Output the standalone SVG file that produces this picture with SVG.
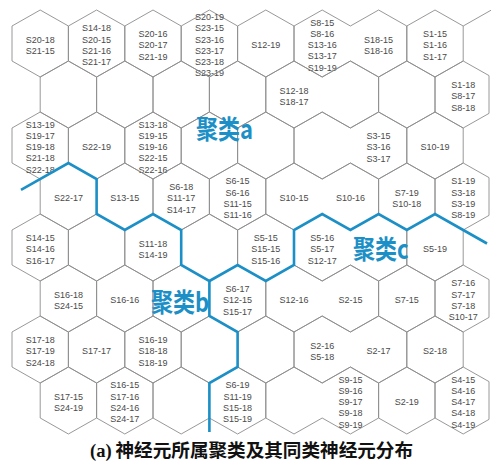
<svg xmlns="http://www.w3.org/2000/svg" width="491" height="465" viewBox="0 0 491 465">
<style>
.hx{fill:none;stroke:#8c8c8c;stroke-width:0.9}
.t{font-family:"Liberation Sans",Arial,sans-serif;font-size:9px;fill:#4a4a4a;text-anchor:middle}
.bd{fill:none;stroke:#1b8fc6;stroke-width:2.6;stroke-linejoin:miter}
.cl{font-family:"Noto Sans CJK SC",sans-serif;font-size:22px;font-weight:bold;fill:#1b8fc6}
.cap{font-family:"Liberation Serif","Noto Sans CJK SC",serif;font-size:18.6px;font-weight:bold;fill:#111}
</style>
<defs>
<path id="hex" class="hx" d="M0,-33.5L28.2,-17.5V17.5L0,33.5L-28.2,17.5V-17.5Z"/>
<path id="hexR" class="hx" d="M28.2,17.5L0,33.5L-28.2,17.5V-17.5L0,-33.5L28.2,-17.5"/>
<path id="hexL" class="hx" d="M-28.2,-17.5L0,-33.5L28.2,-17.5V17.5L0,33.5L-28.2,17.5"/>
<path id="hexE" class="hx" d="M0,-33.5L25.8,-18.9V18.9L0,33.5L-28.2,17.5V-17.5Z"/>
</defs>
<rect width="491" height="465" fill="#fff"/>

<!-- row 0 -->
<g id="n0-0"><use href="#hex" x="40.2" y="43.5"/><text class="t" x="40.2" y="42.6">S20-18<tspan x="40.2" dy="11.25">S21-15</tspan></text></g>
<g id="n0-1"><use href="#hex" x="96.6" y="43.5"/><text class="t" x="96.6" y="31.3">S14-18<tspan x="96.6" dy="11.25">S20-15</tspan><tspan x="96.6" dy="11.25">S21-16</tspan><tspan x="96.6" dy="11.25">S21-17</tspan></text></g>
<g id="n0-2"><use href="#hex" x="153" y="43.5"/><text class="t" x="153" y="37">S20-16<tspan x="153" dy="11.25">S20-17</tspan><tspan x="153" dy="11.25">S21-19</tspan></text></g>
<g id="n0-3"><use href="#hex" x="209.4" y="43.5"/><text class="t" x="209.4" y="20.1">S20-19<tspan x="209.4" dy="11.25">S23-15</tspan><tspan x="209.4" dy="11.25">S23-16</tspan><tspan x="209.4" dy="11.25">S23-17</tspan><tspan x="209.4" dy="11.25">S23-18</tspan><tspan x="209.4" dy="11.25">S23-19</tspan></text></g>
<g id="n0-4"><use href="#hex" x="265.8" y="43.5"/><text class="t" x="265.8" y="48.2">S12-19</text></g>
<g id="n0-5"><use href="#hexR" x="322.2" y="43.5"/><text class="t" x="322.2" y="25.7">S8-15<tspan x="322.2" dy="11.25">S8-16</tspan><tspan x="322.2" dy="11.25">S13-16</tspan><tspan x="322.2" dy="11.25">S13-17</tspan><tspan x="322.2" dy="11.25">S19-19</tspan></text></g>
<g id="n0-6"><use href="#hexL" x="378.6" y="43.5"/><text class="t" x="378.6" y="42.6">S18-15<tspan x="378.6" dy="11.25">S18-16</tspan></text></g>
<g id="n0-7"><use href="#hex" x="435" y="43.5"/><text class="t" x="435" y="37">S1-15<tspan x="435" dy="11.25">S1-16</tspan><tspan x="435" dy="11.25">S1-17</tspan></text></g>
<g id="n0-8"><path class="hx" d="M463.2,26L491.4,10"/></g>

<!-- row 1 -->
<g id="n1-0"><use href="#hex" x="68.4" y="94.5"/></g>
<g id="n1-1"><use href="#hex" x="124.8" y="94.5"/></g>
<g id="n1-2"><use href="#hex" x="181.2" y="94.5"/></g>
<g id="n1-3"><use href="#hex" x="237.6" y="94.5"/></g>
<g id="n1-4"><use href="#hexR" x="294" y="94.5"/><text class="t" x="294" y="93.6">S12-18<tspan x="294" dy="11.25">S18-17</tspan></text></g>
<g id="n1-5"><use href="#hexL" x="350.4" y="94.5"/></g>
<g id="n1-6"><use href="#hex" x="406.8" y="94.5"/></g>
<g id="n1-7"><use href="#hexE" x="463.2" y="94.5"/><text class="t" x="463.2" y="88">S1-18<tspan x="463.2" dy="11.25">S8-17</tspan><tspan x="463.2" dy="11.25">S8-18</tspan></text></g>

<!-- row 2 -->
<g id="n2-0"><use href="#hex" x="40.2" y="145.5"/><text class="t" x="40.2" y="127.7">S13-19<tspan x="40.2" dy="11.25">S19-17</tspan><tspan x="40.2" dy="11.25">S19-18</tspan><tspan x="40.2" dy="11.25">S21-18</tspan><tspan x="40.2" dy="11.25">S22-18</tspan></text></g>
<g id="n2-1"><use href="#hex" x="96.6" y="145.5"/><text class="t" x="96.6" y="150.2">S22-19</text></g>
<g id="n2-2"><use href="#hex" x="153" y="145.5"/><text class="t" x="153" y="127.7">S13-18<tspan x="153" dy="11.25">S19-15</tspan><tspan x="153" dy="11.25">S19-16</tspan><tspan x="153" dy="11.25">S22-15</tspan><tspan x="153" dy="11.25">S22-16</tspan></text></g>
<g id="n2-3"><use href="#hex" x="209.4" y="145.5"/></g>
<g id="n2-4"><use href="#hex" x="265.8" y="145.5"/></g>
<g id="n2-5"><use href="#hexR" x="322.2" y="145.5"/></g>
<g id="n2-6"><use href="#hexL" x="378.6" y="145.5"/><text class="t" x="378.6" y="139">S3-15<tspan x="378.6" dy="11.25">S3-16</tspan><tspan x="378.6" dy="11.25">S3-17</tspan></text></g>
<g id="n2-7"><use href="#hex" x="435" y="145.5"/><text class="t" x="435" y="150.2">S10-19</text></g>

<!-- row 3 -->
<g id="n3-0"><use href="#hex" x="68.4" y="196.5"/><text class="t" x="68.4" y="201.2">S22-17</text></g>
<g id="n3-1"><use href="#hex" x="124.8" y="196.5"/><text class="t" x="124.8" y="201.2">S13-15</text></g>
<g id="n3-2"><use href="#hex" x="181.2" y="196.5"/><text class="t" x="181.2" y="190">S6-18<tspan x="181.2" dy="11.25">S11-17</tspan><tspan x="181.2" dy="11.25">S14-17</tspan></text></g>
<g id="n3-3"><use href="#hex" x="237.6" y="196.5"/><text class="t" x="237.6" y="184.3">S6-15<tspan x="237.6" dy="11.25">S6-16</tspan><tspan x="237.6" dy="11.25">S11-15</tspan><tspan x="237.6" dy="11.25">S11-16</tspan></text></g>
<g id="n3-4"><use href="#hexR" x="294" y="196.5"/><text class="t" x="294" y="201.2">S10-15</text></g>
<g id="n3-5"><use href="#hexL" x="350.4" y="196.5"/><text class="t" x="350.4" y="201.2">S10-16</text></g>
<g id="n3-6"><use href="#hex" x="406.8" y="196.5"/><text class="t" x="406.8" y="195.6">S7-19<tspan x="406.8" dy="11.25">S10-18</tspan></text></g>
<g id="n3-7"><use href="#hexE" x="463.2" y="196.5"/><text class="t" x="463.2" y="184.3">S1-19<tspan x="463.2" dy="11.25">S3-18</tspan><tspan x="463.2" dy="11.25">S3-19</tspan><tspan x="463.2" dy="11.25">S8-19</tspan></text></g>

<!-- row 4 -->
<g id="n4-0"><use href="#hex" x="40.2" y="247.5"/><text class="t" x="40.2" y="241">S14-15<tspan x="40.2" dy="11.25">S14-16</tspan><tspan x="40.2" dy="11.25">S16-17</tspan></text></g>
<g id="n4-1"><use href="#hex" x="96.6" y="247.5"/></g>
<g id="n4-2"><use href="#hex" x="153" y="247.5"/><text class="t" x="153" y="246.6">S11-18<tspan x="153" dy="11.25">S14-19</tspan></text></g>
<g id="n4-3"><use href="#hex" x="209.4" y="247.5"/></g>
<g id="n4-4"><use href="#hex" x="265.8" y="247.5"/><text class="t" x="265.8" y="241">S5-15<tspan x="265.8" dy="11.25">S15-15</tspan><tspan x="265.8" dy="11.25">S15-16</tspan></text></g>
<g id="n4-5"><use href="#hexR" x="322.2" y="247.5"/><text class="t" x="322.2" y="241">S5-16<tspan x="322.2" dy="11.25">S5-17</tspan><tspan x="322.2" dy="11.25">S12-17</tspan></text></g>
<g id="n4-6"><use href="#hexL" x="378.6" y="247.5"/></g>
<g id="n4-7"><use href="#hex" x="435" y="247.5"/><text class="t" x="435" y="252.2">S5-19</text></g>

<!-- row 5 -->
<g id="n5-0"><use href="#hex" x="68.4" y="298.5"/><text class="t" x="68.4" y="297.6">S16-18<tspan x="68.4" dy="11.25">S24-15</tspan></text></g>
<g id="n5-1"><use href="#hex" x="124.8" y="298.5"/><text class="t" x="124.8" y="303.2">S16-16</text></g>
<g id="n5-2"><use href="#hex" x="181.2" y="298.5"/></g>
<g id="n5-3"><use href="#hex" x="237.6" y="298.5"/><text class="t" x="237.6" y="292">S6-17<tspan x="237.6" dy="11.25">S12-15</tspan><tspan x="237.6" dy="11.25">S15-17</tspan></text></g>
<g id="n5-4"><use href="#hexR" x="294" y="298.5"/><text class="t" x="294" y="303.2">S12-16</text></g>
<g id="n5-5"><use href="#hexL" x="350.4" y="298.5"/><text class="t" x="350.4" y="303.2">S2-15</text></g>
<g id="n5-6"><use href="#hex" x="406.8" y="298.5"/><text class="t" x="406.8" y="303.2">S7-15</text></g>
<g id="n5-7"><use href="#hexE" x="463.2" y="298.5"/><text class="t" x="463.2" y="286.3">S7-16<tspan x="463.2" dy="11.25">S7-17</tspan><tspan x="463.2" dy="11.25">S7-18</tspan><tspan x="463.2" dy="11.25">S10-17</tspan></text></g>

<!-- row 6 -->
<g id="n6-0"><use href="#hex" x="40.2" y="349.5"/><text class="t" x="40.2" y="343">S17-18<tspan x="40.2" dy="11.25">S17-19</tspan><tspan x="40.2" dy="11.25">S24-18</tspan></text></g>
<g id="n6-1"><use href="#hex" x="96.6" y="349.5"/><text class="t" x="96.6" y="354.2">S17-17</text></g>
<g id="n6-2"><use href="#hex" x="153" y="349.5"/><text class="t" x="153" y="343">S16-19<tspan x="153" dy="11.25">S18-18</tspan><tspan x="153" dy="11.25">S18-19</tspan></text></g>
<g id="n6-3"><use href="#hex" x="209.4" y="349.5"/></g>
<g id="n6-4"><use href="#hex" x="265.8" y="349.5"/></g>
<g id="n6-5"><use href="#hexR" x="322.2" y="349.5"/><text class="t" x="322.2" y="348.6">S2-16<tspan x="322.2" dy="11.25">S5-18</tspan></text></g>
<g id="n6-6"><use href="#hexL" x="378.6" y="349.5"/><text class="t" x="378.6" y="354.2">S2-17</text></g>
<g id="n6-7"><use href="#hex" x="435" y="349.5"/><text class="t" x="435" y="354.2">S2-18</text></g>

<!-- row 7 -->
<g id="n7-0"><use href="#hex" x="68.4" y="400.5"/><text class="t" x="68.4" y="399.6">S17-15<tspan x="68.4" dy="11.25">S24-19</tspan></text></g>
<g id="n7-1"><use href="#hex" x="124.8" y="400.5"/><text class="t" x="124.8" y="388.3">S16-15<tspan x="124.8" dy="11.25">S17-16</tspan><tspan x="124.8" dy="11.25">S24-16</tspan><tspan x="124.8" dy="11.25">S24-17</tspan></text></g>
<g id="n7-2"><use href="#hex" x="181.2" y="400.5"/></g>
<g id="n7-3"><use href="#hex" x="237.6" y="400.5"/><text class="t" x="237.6" y="388.3">S6-19<tspan x="237.6" dy="11.25">S11-19</tspan><tspan x="237.6" dy="11.25">S15-18</tspan><tspan x="237.6" dy="11.25">S15-19</tspan></text></g>
<g id="n7-4"><use href="#hexR" x="294" y="400.5"/></g>
<g id="n7-5"><use href="#hexL" x="350.4" y="400.5"/><text class="t" x="350.4" y="382.7">S9-15<tspan x="350.4" dy="11.25">S9-16</tspan><tspan x="350.4" dy="11.25">S9-17</tspan><tspan x="350.4" dy="11.25">S9-18</tspan><tspan x="350.4" dy="11.25">S9-19</tspan></text></g>
<g id="n7-6"><use href="#hex" x="406.8" y="400.5"/><text class="t" x="406.8" y="405.2">S2-19</text></g>
<g id="n7-7"><use href="#hexE" x="463.2" y="400.5"/><text class="t" x="463.2" y="382.7">S4-15<tspan x="463.2" dy="11.25">S4-16</tspan><tspan x="463.2" dy="11.25">S4-17</tspan><tspan x="463.2" dy="11.25">S4-18</tspan><tspan x="463.2" dy="11.25">S4-19</tspan></text></g>

<!-- cluster boundaries -->
<g id="connectors">
<path class="bd" d="M21,189.9L68.4,163L96.6,179V214L124.8,230L153,214L181.2,230V265L209.4,281V316L237.6,332V367L209.4,383V432"/>
<path class="bd" d="M209.4,281L237.6,265L265.8,281L294,265V230L322.2,214L350.4,230L378.6,214L406.8,230L435,214L463.2,230L487,243.5"/>
</g>

<g id="cluster-a"><text class="cl" transform="translate(196,139) scale(1,1.2)">聚类a</text></g>
<g id="cluster-b"><text class="cl" transform="translate(151,312) scale(1,1.2)">聚类b</text></g>
<g id="cluster-c"><text class="cl" transform="translate(353,259) scale(1,1.2)">聚类c</text></g>

<g id="caption"><text class="cap" x="90" y="457">(a)<tspan x="115.5" font-family="'Noto Sans CJK SC',sans-serif">神经元所属聚类及其同类神经元分布</tspan></text></g>
</svg>
